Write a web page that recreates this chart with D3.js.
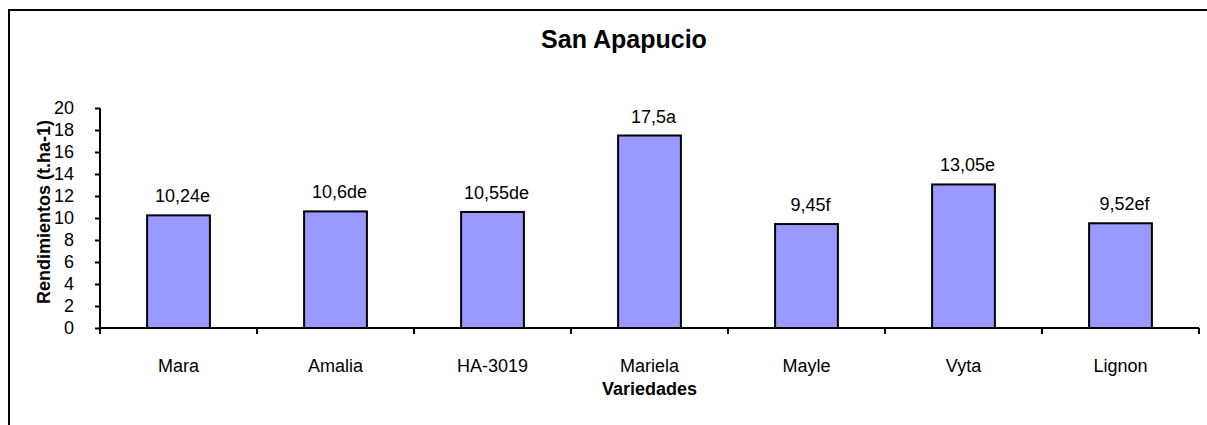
<!DOCTYPE html>
<meta charset="utf-8">
<script src="https://d3js.org/d3.v7.min.js"></script>
<style>
  body { margin: 0; background: #fff; }
  text { font-family: Arial, "Liberation Sans", sans-serif; fill: #000; }
</style>
<div id="chart"></div>
<script>

// data
var varieties = ["Mara", "Amalia", "HA-3019", "Mariela", "Mayle", "Vyta", "Lignon"];
var yields = [10.24, 10.6, 10.55, 17.5, 9.45, 13.05, 9.52];
var letters = ["e", "de", "de", "a", "f", "e", "ef"];
var yTicks = [0, 2, 4, 6, 8, 10, 12, 14, 16, 18, 20];

var W = 1207, H = 425;
var plot = {left: 100, right: 1199, top: 108, bottom: 328};

var svg = d3.select("#chart")
  .append("svg")
    .attr("width", W)
    .attr("height", H);

// outer chart frame (runs off the right and bottom edges)
svg.append("rect")
  .attr("x", 9).attr("y", 10)
  .attr("width", W + 20).attr("height", H + 20)
  .attr("fill", "none")
  .attr("stroke", "#000")
  .attr("stroke-width", 2);

var x = d3.scaleBand()
  .domain(varieties)
  .range([plot.left, plot.right])
  .paddingInner(0.6)
  .paddingOuter(0.3);

var y = d3.scaleLinear()
  .domain([0, 20])
  .range([plot.bottom, plot.top]);

var step = x.step();

// bars
svg.append("g")
  .selectAll("rect")
  .data(varieties)
  .enter().append("rect")
    .attr("x", function(d) { return x(d); })
    .attr("y", function(d, i) { return y(yields[i]); })
    .attr("width", x.bandwidth())
    .attr("height", function(d, i) { return y(0) - y(yields[i]); })
    .attr("fill", "#9999FF")
    .attr("stroke", "#000")
    .attr("stroke-width", 2);

// y axis
var yAxis = svg.append("g")
  .attr("transform", "translate(" + plot.left + ",0)")
  .call(d3.axisLeft(y).tickValues(yTicks).tickSize(5).tickPadding(21));
yAxis.select(".domain").attr("stroke-width", 2).attr("d", "M0," + y(20) + "V" + y(0));
yAxis.selectAll(".tick line").attr("stroke-width", 2);
yAxis.selectAll(".tick text")
  .style("font-size", "18px")
  .style("font-family", "Arial, 'Liberation Sans', sans-serif");

// x axis: baseline with ticks at category boundaries
var xg = svg.append("g");
xg.append("line")
  .attr("x1", plot.left).attr("x2", plot.right)
  .attr("y1", y(0)).attr("y2", y(0))
  .attr("stroke", "#000").attr("stroke-width", 2);

var bounds = [plot.left].concat(varieties.map(function(d) {
  return x(d) + x.bandwidth() / 2 + step / 2;
}));
xg.selectAll(".xtick")
  .data(bounds)
  .enter().append("line")
    .attr("x1", function(d) { return d; })
    .attr("x2", function(d) { return d; })
    .attr("y1", y(0)).attr("y2", y(0) + 6)
    .attr("stroke", "#000").attr("stroke-width", 2);

xg.selectAll(".xlab")
  .data(varieties)
  .enter().append("text")
    .attr("x", function(d) { return x(d) + x.bandwidth() / 2; })
    .attr("y", 372)
    .attr("text-anchor", "middle")
    .style("font-size", "18px")
    .text(function(d) { return d; });

// value labels
svg.append("g")
  .selectAll("text")
  .data(varieties)
  .enter().append("text")
    .attr("x", function(d) { return x(d) + x.bandwidth() / 2 + 4; })
    .attr("y", function(d, i) { return y(yields[i]) - 13; })
    .attr("text-anchor", "middle")
    .style("font-size", "18px")
    .text(function(d, i) { return String(yields[i]).replace(".", ",") + letters[i]; });

// titles
svg.append("text")
  .attr("x", 624).attr("y", 48)
  .attr("text-anchor", "middle")
  .style("font-size", "25px")
  .style("font-weight", "bold")
  .text("San Apapucio");

svg.append("text")
  .attr("x", (plot.left + plot.right) / 2).attr("y", 395)
  .attr("text-anchor", "middle")
  .style("font-size", "18px")
  .style("font-weight", "bold")
  .text("Variedades");

svg.append("text")
  .attr("transform", "translate(50," + ((plot.top + plot.bottom) / 2 - 6) + ") rotate(-90)")
  .attr("text-anchor", "middle")
  .style("font-size", "18px")
  .style("font-weight", "bold")
  .text("Rendimientos (t.ha-1)");

</script>
